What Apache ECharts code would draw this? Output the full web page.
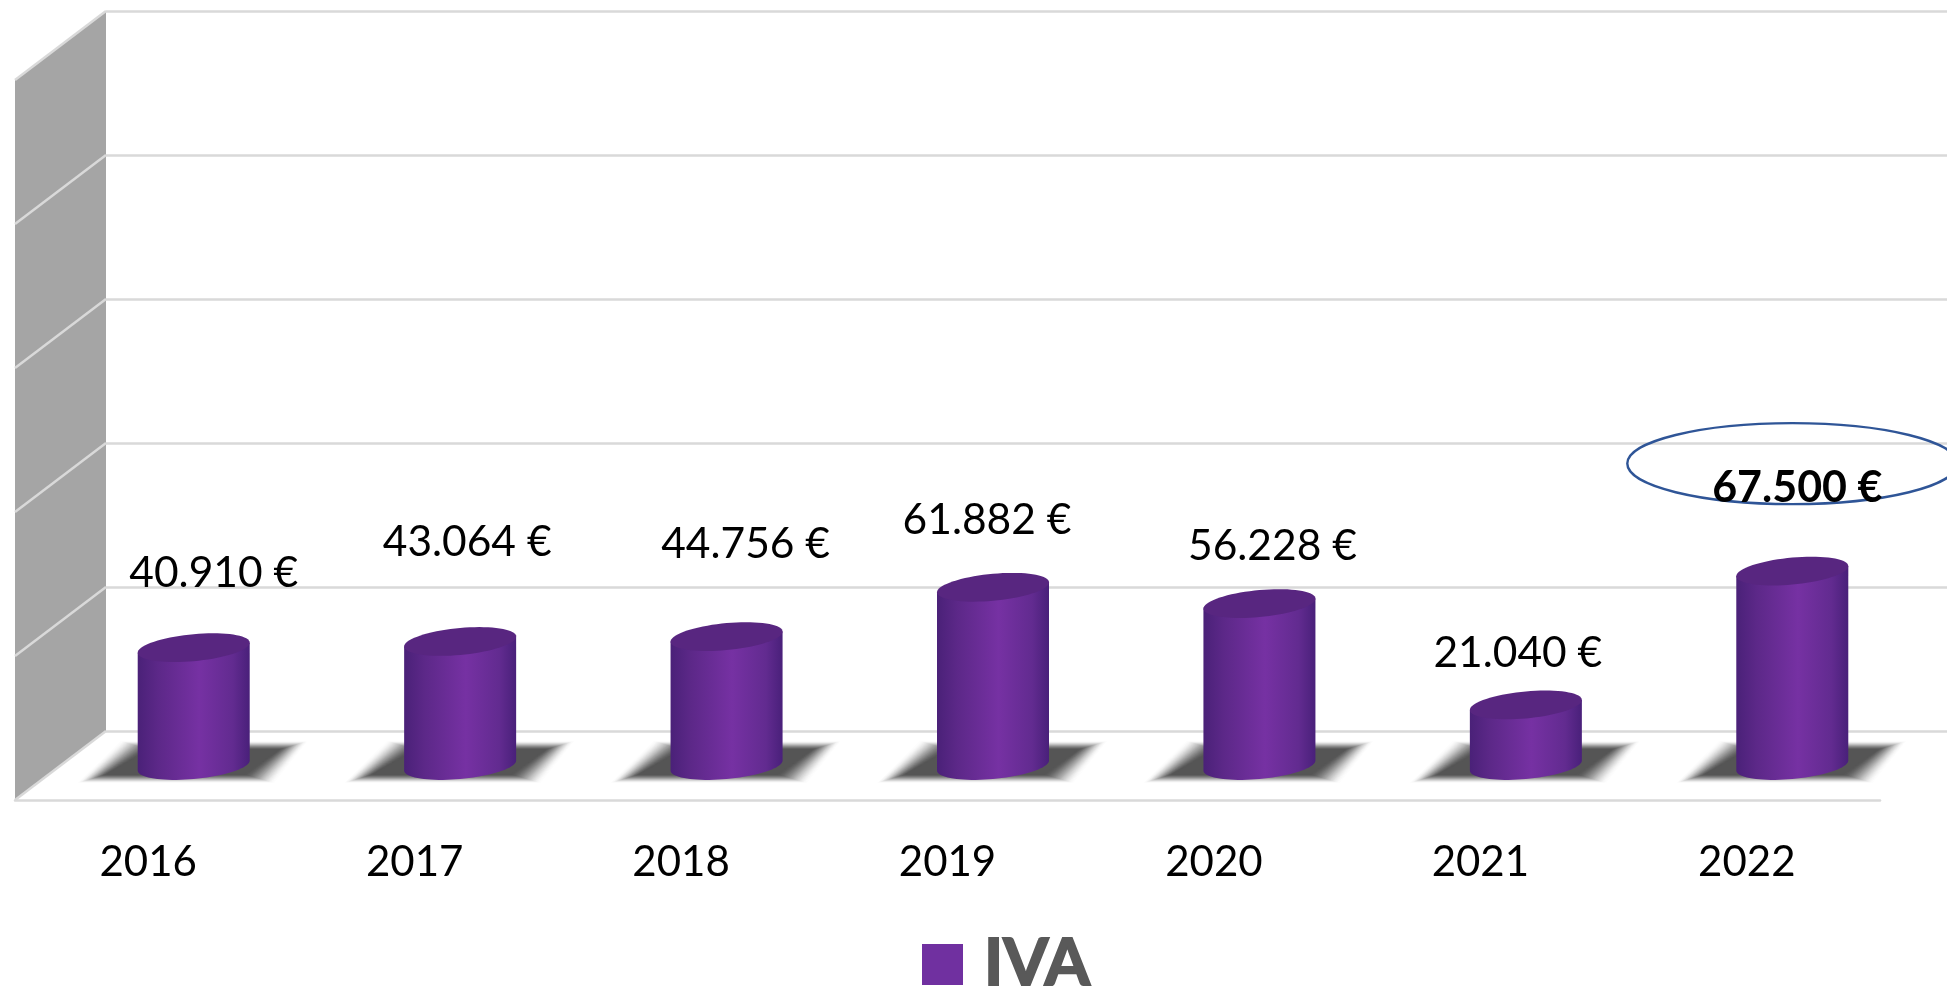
<!DOCTYPE html>
<html>
<head>
<meta charset="utf-8">
<style>html,body{margin:0;padding:0;background:#fff;overflow:hidden}#c{width:1947px;height:988px}</style>
<script src="https://cdn.jsdelivr.net/npm/echarts@6/dist/echarts.min.js"></script>
</head>
<body>
<div id="c"></div>
<script>
const categories = ['2016','2017','2018','2019','2020','2021','2022'];
const ivaValues = [40910,43064,44756,61882,56228,21040,67500];
const axisTicks = [0,50000,100000,150000,200000,250000];
const highlightedYear = '2022';
// hand placement of the value labels relative to each cylinder top
const labelNudgeX = [20,7,19,-6,13,-8,5];
const labelNudgeY = [-74,-99,-92,-67,-57,-52,-83];

const FONT = 'Lato';
const GRID_LINE = '#d9d9d9';
const WALL = '#a5a5a5';
const depthX = 91, depthY = 69;
const halfW = 56, skew = 5, halfH = 13.5;

function ringPoints(cx, cy, from, to, n) {
  const pts = [];
  for (let i = 0; i <= n; i++) {
    const t = from + (to - from) * i / n;
    pts.push([cx + halfW * Math.cos(t), cy + halfH * Math.sin(t) - skew * Math.cos(t)]);
  }
  return pts;
}

function renderCylinder(params, api) {
  const [cx, top] = api.coord([api.value(0), api.value(1)]);
  const [, base] = api.coord([api.value(0), 0]);
  // the straight closing edge of the body is covered by the top ellipse
  const body = ringPoints(cx, base, Math.PI, 0, 40)
    .concat([[cx + halfW, top - skew], [cx - halfW, top + skew]]);
  const children = [
    { type: 'polygon', shape: { points: body }, style: {
      fill: new echarts.graphic.LinearGradient(0, 0, 1, 0, [
        { offset: 0, color: '#4a2178' },
        { offset: 0.18, color: '#5c2888' },
        { offset: 0.55, color: '#7631a3' },
        { offset: 0.85, color: '#622b90' },
        { offset: 1, color: '#49207a' }
      ]) } },
    { type: 'polygon', shape: { points: ringPoints(cx, top, 0, Math.PI * 2, 72) },
      style: { fill: '#582680' } }
  ];
  if (categories[api.value(0)] === highlightedYear) {
    children.push({ type: 'ellipse', shape: { cx: cx, cy: top - 107.5, rx: 165, ry: 40.5 },
      style: { fill: 'none', stroke: '#2f5597', lineWidth: 2.4 } });
  }
  return { type: 'group', children };
}

function renderShadow(params, api) {
  const [cx, base] = api.coord([api.value(0), 0]);
  const children = [];
  // soft edge: stacked translucent copies whose combined cover follows a smooth ramp
  const outer = 20, inner = -12;
  let prev = 0;
  for (let e = outer - 1; e >= inner; e--) {
    const s = (outer - e) / (outer - inner);
    const cover = Math.min(0.995, s * s * (3 - 2 * s));
    const alpha = 1 - (1 - cover) / (1 - prev);
    prev = cover;
    const ey = e * 0.3;
    children.push({ type: 'polygon', shape: { points: [
        [cx - 55 - e, base - 19 - ey], [cx + 96 + e, base - 19 - ey],
        [cx + 62 + e, base + 12 + ey], [cx - 98 - e, base + 12 + ey]
      ] }, style: { fill: 'rgba(85,85,85,' + alpha.toFixed(4) + ')' } });
  }
  return { type: 'group', children };
}

function renderWall(params, api) {
  const x = params.coordSys.x;
  const [, top] = api.coord([0, axisTicks[axisTicks.length - 1]]);
  const [, bottom] = api.coord([0, 0]);
  return { type: 'polygon', shape: { points: [
      [x, top], [x, bottom], [x - depthX, bottom + depthY], [x - depthX, top + depthY]
    ] }, style: { fill: WALL } };
}

function renderWallLine(params, api) {
  const x = params.coordSys.x;
  const [, y] = api.coord([0, api.value(1)]);
  return { type: 'line', shape: { x1: x, y1: y, x2: x - depthX, y2: y + depthY },
    style: { stroke: GRID_LINE, lineWidth: 2.5 } };
}

const valueAxis = (gridIndex, shown) => ({
  type: 'value', gridIndex, min: 0, max: 250000, interval: 50000,
  axisLine: { show: false }, axisTick: { show: false }, axisLabel: { show: false },
  splitLine: { show: shown, lineStyle: { color: GRID_LINE, width: 2.5 } }
});
const categoryAxis = (gridIndex, shown) => ({
  type: 'category', gridIndex, data: categories, show: shown,
  axisTick: { show: false },
  axisLine: { show: shown, lineStyle: { color: GRID_LINE, width: 2.5 } },
  axisLabel: { color: '#000', fontFamily: FONT, fontSize: 42, margin: 41 }
});

const chart = echarts.init(document.getElementById('c'));
chart.setOption({
  animation: false,
  backgroundColor: '#fff',
  grid: [
    { left: 106, width: 1865, top: 11, height: 720 },
    { left: 60.5, width: 1865, top: 45.5, height: 720 },
    { left: 15, width: 1865, top: 80, height: 720 }
  ],
  xAxis: [categoryAxis(0, false), categoryAxis(1, false), categoryAxis(2, true)],
  yAxis: [valueAxis(0, true), valueAxis(1, false), valueAxis(2, false)],
  legend: {
    data: [{ name: 'IVA', icon: 'rect', itemStyle: { color: '#7030a0' } }],
    left: 917, top: 926,
    itemWidth: 41, itemHeight: 41,
    textStyle: { color: '#595959', fontFamily: FONT, fontWeight: 'bold', fontSize: 65, padding: [0, 0, 0, 16],
      textBorderColor: '#595959', textBorderWidth: 2 }
  },
  series: [
    { type: 'custom', name: 'wall', xAxisIndex: 0, yAxisIndex: 0, z: 1, silent: true,
      data: [[0, 0]], renderItem: renderWall, clip: false },
    { type: 'custom', name: 'wall lines', xAxisIndex: 0, yAxisIndex: 0, z: 2, silent: true,
      data: axisTicks.map(t => [0, t]), renderItem: renderWallLine, clip: false },
    { type: 'custom', name: 'shadow', xAxisIndex: 1, yAxisIndex: 1, z: 3, silent: true,
      data: ivaValues.map((v, i) => [i, v]), renderItem: renderShadow, clip: false },
    { type: 'custom', name: 'IVA', xAxisIndex: 1, yAxisIndex: 1, z: 4,
      itemStyle: { color: '#7030a0' },
      data: ivaValues.map((v, i) => [i, v]), renderItem: renderCylinder, clip: false },
    { type: 'scatter', name: 'labels', xAxisIndex: 1, yAxisIndex: 1, z: 5, symbolSize: 0, silent: true,
      itemStyle: { opacity: 1 },
      data: ivaValues.map((v, i) => ({
        value: [i, v],
        label: {
          show: true, position: 'inside', color: '#000', textBorderWidth: 0,
          fontFamily: FONT,
          offset: [labelNudgeX[i], labelNudgeY[i]],
          fontSize: categories[i] === highlightedYear ? 43 : 42.5,
          fontWeight: categories[i] === highlightedYear ? 'bold' : 'normal',
          formatter: p => p.value[1].toLocaleString('de-DE') + ' €'
        }
      }))
    }
  ]
});
</script>
</body>
</html>
